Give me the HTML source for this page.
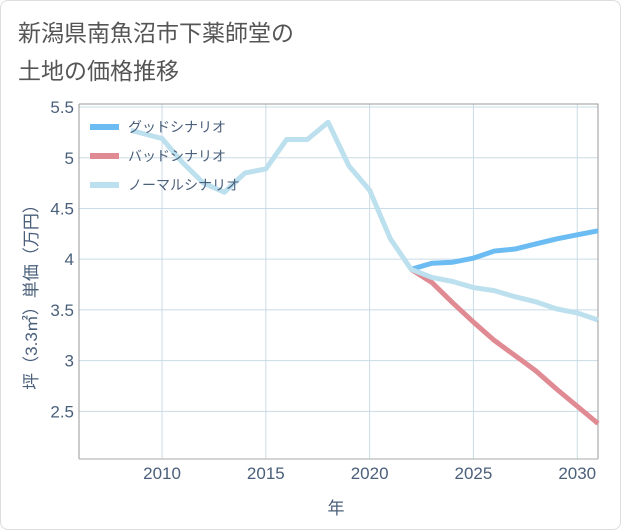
<!DOCTYPE html>
<html><head><meta charset="utf-8"><style>
body{margin:0;background:#fff;}
#card{position:relative;width:619px;height:528px;border:1px solid #ddd;border-radius:8px;background:#fff;font-family:"Liberation Sans","Noto Sans CJK JP",sans-serif;}
#title{position:absolute;left:17px;top:13px;font-size:23px;line-height:38px;color:#555;}
svg{position:absolute;left:0;top:0;}
</style></head><body>
<div id="card">
<div id="title">新潟県南魚沼市下薬師堂の<br>土地の価格推移</div>
<svg id="chart" width="621" height="530"></svg>
</div>
<script>
const normalYears=[2008.5,2010,2011,2012,2013,2014,2015,2016,2017,2018,2019,2020,2021,2022,2023,2024,2025,2026,2027,2028,2029,2030,2031];
const normalValues=[5.27,5.19,4.95,4.75,4.66,4.85,4.89,5.18,5.18,5.35,4.92,4.68,4.2,3.9,3.82,3.78,3.72,3.69,3.63,3.58,3.51,3.47,3.4];
const futureYears=[2022,2023,2024,2025,2026,2027,2028,2029,2030,2031];
const goodValues=[3.9,3.96,3.97,4.01,4.08,4.1,4.15,4.2,4.24,4.28];
const badValues=[3.9,3.77,3.57,3.38,3.2,3.05,2.9,2.72,2.55,2.38];
const xTicks=[2010,2015,2020,2025,2030];
const yTicks=[2.5,3,3.5,4,4.5,5,5.5];
const L=78,R=597,T=103,B=458,X0=2006,X1=2031,Y0=2.03,Y1=5.53;
const sx=v=>L+(v-X0)/(X1-X0)*(R-L);
const sy=v=>B-(v-Y0)/(Y1-Y0)*(B-T);
const svg=document.getElementById('chart');
const NS='http://www.w3.org/2000/svg';
function mk(tag,attrs){const e=document.createElementNS(NS,tag);for(const k in attrs)e.setAttribute(k,attrs[k]);svg.appendChild(e);return e;}
xTicks.forEach(t=>{
 const g=mk('line',{x1:sx(t),x2:sx(t),y1:T,y2:B,stroke:'#c9dbe6','stroke-width':1});
 
 
 const tx=mk('text',{x:sx(t),y:478,'text-anchor':'middle','font-size':17,fill:'#4a5f7a'});
 tx.textContent=t;
 
 
});
yTicks.forEach(t=>{
 const g=mk('line',{x1:L,x2:R,y1:sy(t),y2:sy(t),stroke:'#c9dbe6','stroke-width':1});
 
 
 const tx=mk('text',{x:73,y:sy(t)+6,'text-anchor':'end','font-size':17,fill:'#4a5f7a'});
 tx.textContent=t;
 
 
});
const frame=mk('path',{d:`M${L} ${T}H${R}V${B}M${L} ${T}V${B}`,stroke:'#999',fill:'none','stroke-width':1});


const ax=mk('line',{x1:L,x2:R,y1:B,y2:B,stroke:'#aaa'});


function series(xs,ys,color,name){
 const p=mk('polyline',{points:xs.map((x,i)=>sx(x)+','+sy(ys[i])).join(' '),fill:'none',stroke:color,'stroke-width':5,'stroke-linejoin':'round'});
 
 
}
series(futureYears,badValues,'#e08b93','bad-scenario-line');
series(futureYears,goodValues,'#6bbcf2','good-scenario-line');
series(normalYears,normalValues,'#bde0ee','normal-scenario-line');
const leg=[['グッドシナリオ','#6bbcf2'],['バッドシナリオ','#e08b93'],['ノーマルシナリオ','#bde0ee']];
leg.forEach((l,i)=>{
 const y=126+i*29;
 const s=mk('line',{x1:89,x2:118,y1:y,y2:y,stroke:l[1],'stroke-width':6});
 
 
 const t=mk('text',{x:127,y:y+5,'font-size':14,fill:'#4a5f7a'});
 t.textContent=l[0];
 
 
});
const xt=mk('text',{x:335,y:513,'text-anchor':'middle','font-size':17,fill:'#4a5f7a'});
xt.textContent='年';


const yt=mk('text',{x:0,y:0,'text-anchor':'middle','font-size':17,fill:'#4a5f7a',transform:'translate(36,292) rotate(-90)'});
yt.textContent='坪（3.3㎡）単価（万円）';


</script>
</body></html>
